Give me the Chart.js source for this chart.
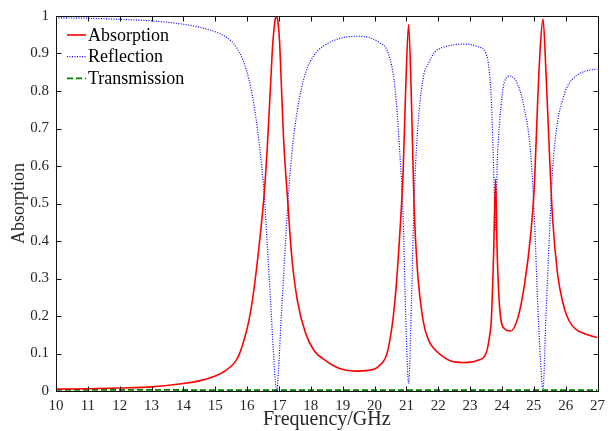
<!DOCTYPE html>
<html>
<head>
<meta charset="utf-8">
<script src="https://cdn.jsdelivr.net/npm/chart.js@4"></script>
<style>
  html, body { margin: 0; padding: 0; background: #fff; }
  #wrap { width: 611px; height: 431px; }
</style>
</head>
<body>
<div id="wrap"><canvas id="absChart" width="611" height="431"></canvas></div>
<script>
// frequency samples (GHz)
const freq = [10, 11, 12, 13, 14, 14.5, 15, 15.3, 15.6, 15.75, 15.9, 16.05, 16.2, 16.38, 16.54, 16.64,
  16.75, 16.8, 16.85, 16.88, 16.93, 16.98, 17.02, 17.06, 17.14, 17.28, 17.4, 17.58, 17.84, 18.1, 18.4, 18.9, 19.4, 19.8,
  20.13, 20.43, 20.64, 20.79, 20.9, 20.98, 21.07, 21.16, 21.24, 21.34, 21.52, 21.7, 21.9, 22.1,
  22.4, 22.8, 23.25, 23.5, 23.6, 23.67, 23.74, 23.8, 23.85, 23.93, 24.08, 24.27, 24.5, 24.71,
  24.9, 25.02, 25.12, 25.21, 25.29, 25.38, 25.49, 25.59, 25.75, 25.9, 26.04, 26.2, 26.4, 26.7, 27];

const absorption = [0.005, 0.006, 0.008, 0.011, 0.02, 0.027, 0.04, 0.053, 0.075, 0.097, 0.135, 0.185, 0.262, 0.39, 0.53, 0.66,
  0.84, 0.92, 0.97, 0.99, 1.0, 0.975, 0.93, 0.85, 0.68, 0.5, 0.36, 0.24, 0.153, 0.108, 0.085, 0.06, 0.053, 0.055,
  0.066, 0.113, 0.24, 0.415, 0.59, 0.81, 0.977, 0.77, 0.5, 0.33, 0.19, 0.135, 0.11, 0.095,
  0.08, 0.076, 0.082, 0.1, 0.14, 0.195, 0.37, 0.565, 0.37, 0.22, 0.166, 0.16, 0.195, 0.285,
  0.415, 0.55, 0.77, 0.926, 0.992, 0.855, 0.636, 0.46, 0.31, 0.24, 0.2, 0.175, 0.16, 0.15, 0.142];

const reflection = [0.995, 0.994, 0.991, 0.987, 0.978, 0.97, 0.958, 0.946, 0.924, 0.904, 0.876, 0.833, 0.77, 0.66, 0.52, 0.38,
  0.22, 0.14, 0.07, 0.03, 0.0, 0.05, 0.11, 0.18, 0.3, 0.5, 0.63, 0.75, 0.85, 0.895, 0.92, 0.94, 0.946, 0.943,
  0.93, 0.9, 0.81, 0.64, 0.46, 0.195, 0.02, 0.24, 0.5, 0.68, 0.83, 0.875, 0.905, 0.915,
  0.922, 0.925, 0.918, 0.9, 0.855, 0.77, 0.59, 0.43, 0.6, 0.72, 0.825, 0.84, 0.816, 0.75,
  0.636, 0.46, 0.24, 0.082, 0.007, 0.195, 0.415, 0.59, 0.72, 0.775, 0.81, 0.83, 0.845, 0.855, 0.858];

const transFreq = [10, 13, 16, 17, 19, 21, 23, 25, 27];
const transmission = [0.003, 0.003, 0.002, 0.002, 0.002, 0.002, 0.002, 0.002, 0.002];

const seriesNames = ['Absorption', 'Reflection', 'Transmission'];
const xTicks = [10, 11, 12, 13, 14, 15, 16, 17, 18, 19, 20, 21, 22, 23, 24, 25, 26, 27];
const yTicks = [0, 0.1, 0.2, 0.3, 0.4, 0.5, 0.6, 0.7, 0.8, 0.9, 1];

const serif = "'Liberation Serif', 'Times New Roman', serif";
const textColor = '#262626';

// frame, inward ticks on all four sides, and the legend inside the plot
const frameAndLegend = {
  id: 'frameAndLegend',
  afterDraw(chart) {
    const { ctx, chartArea: a, scales } = chart;
    const x = scales.x, y = scales.y;
    const L = Math.round(a.left) + 0.5, R = Math.round(a.right) + 0.5;
    const T = Math.round(a.top) + 0.5, B = Math.round(a.bottom) + 0.5;
    ctx.save();
    ctx.strokeStyle = '#111';
    ctx.lineWidth = 1;
    ctx.setLineDash([]);
    ctx.strokeRect(L, T, R - L, B - T);
    const len = 5;
    ctx.beginPath();
    xTicks.forEach(v => {
      const px = Math.round(x.getPixelForValue(v)) + 0.5;
      ctx.moveTo(px, B); ctx.lineTo(px, B - len);
      ctx.moveTo(px, T); ctx.lineTo(px, T + len);
    });
    yTicks.forEach(v => {
      const py = Math.round(y.getPixelForValue(v)) + 0.5;
      ctx.moveTo(L, py); ctx.lineTo(L + len, py);
      ctx.moveTo(R, py); ctx.lineTo(R - len, py);
    });
    ctx.stroke();

    // legend
    ctx.font = '18px ' + serif;
    ctx.textBaseline = 'middle';
    ctx.fillStyle = '#000';
    chart.data.datasets.forEach((ds, i) => {
      const ry = 35 + i * 21.7;
      ctx.strokeStyle = ds.borderColor;
      ctx.lineWidth = ds.borderWidth;
      ctx.setLineDash(ds.borderDash || []);
      ctx.beginPath();
      ctx.moveTo(67, ry); ctx.lineTo(86, ry);
      ctx.stroke();
      ctx.setLineDash([]);
      ctx.fillText(ds.label, 88, ry + 1);
    });
    ctx.restore();
  }
};

function toPoints(xs, ys) {
  return xs.map((f, i) => ({ x: f, y: ys[i] }));
}

const ctx = document.getElementById('absChart').getContext('2d');
const absChart = new Chart(ctx, {
  type: 'line',
  data: {
    datasets: [{
      label: seriesNames[0],
      data: toPoints(freq, absorption),
      borderColor: 'rgb(255,0,0)',
      borderWidth: 1.6,
      cubicInterpolationMode: 'monotone',
      pointRadius: 0
    }, {
      label: seriesNames[1],
      data: toPoints(freq, reflection),
      borderColor: 'rgb(0,0,255)',
      borderWidth: 1.2,
      borderDash: [1, 1.5],
      cubicInterpolationMode: 'monotone',
      pointRadius: 0
    }, {
      label: seriesNames[2],
      data: toPoints(transFreq, transmission),
      borderColor: 'rgb(0,128,0)',
      borderWidth: 1.8,
      borderDash: [6, 3],
      pointRadius: 0
    }]
  },
  options: {
    responsive: false,
    animation: false,
    devicePixelRatio: 1,
    layout: { padding: { left: 6, right: 11, top: 12, bottom: 0 } },
    plugins: {
      legend: { display: false },
      tooltip: { enabled: false }
    },
    scales: {
      x: {
        type: 'linear',
        min: 10,
        max: 27,
        afterFit(scale) { scale.height = 40; },
        afterBuildTicks(scale) { scale.ticks = xTicks.map(v => ({ value: v })); },
        grid: { display: false, drawTicks: false },
        border: { display: false },
        ticks: {
          autoSkip: false,
          maxRotation: 0,
          padding: 6,
          color: textColor,
          font: { family: serif, size: 15 }
        },
        title: {
          display: true,
          text: 'Frequency/GHz',
          color: textColor,
          font: { family: serif, size: 20 },
          padding: { top: 0, bottom: -1 }
        }
      },
      y: {
        min: 0,
        max: 1,
        afterFit(scale) { scale.width = 50; },
        afterBuildTicks(scale) { scale.ticks = yTicks.map(v => ({ value: v })); },
        grid: { display: false, drawTicks: false },
        border: { display: false },
        ticks: {
          padding: 7,
          color: textColor,
          font: { family: serif, size: 15 },
          callback: v => String(+v.toFixed(1))
        },
        title: {
          display: true,
          text: 'Absorption',
          color: textColor,
          font: { family: serif, size: 18 },
          padding: { top: 2, bottom: 0 }
        }
      }
    }
  },
  plugins: [frameAndLegend]
});
</script>
</body>
</html>
